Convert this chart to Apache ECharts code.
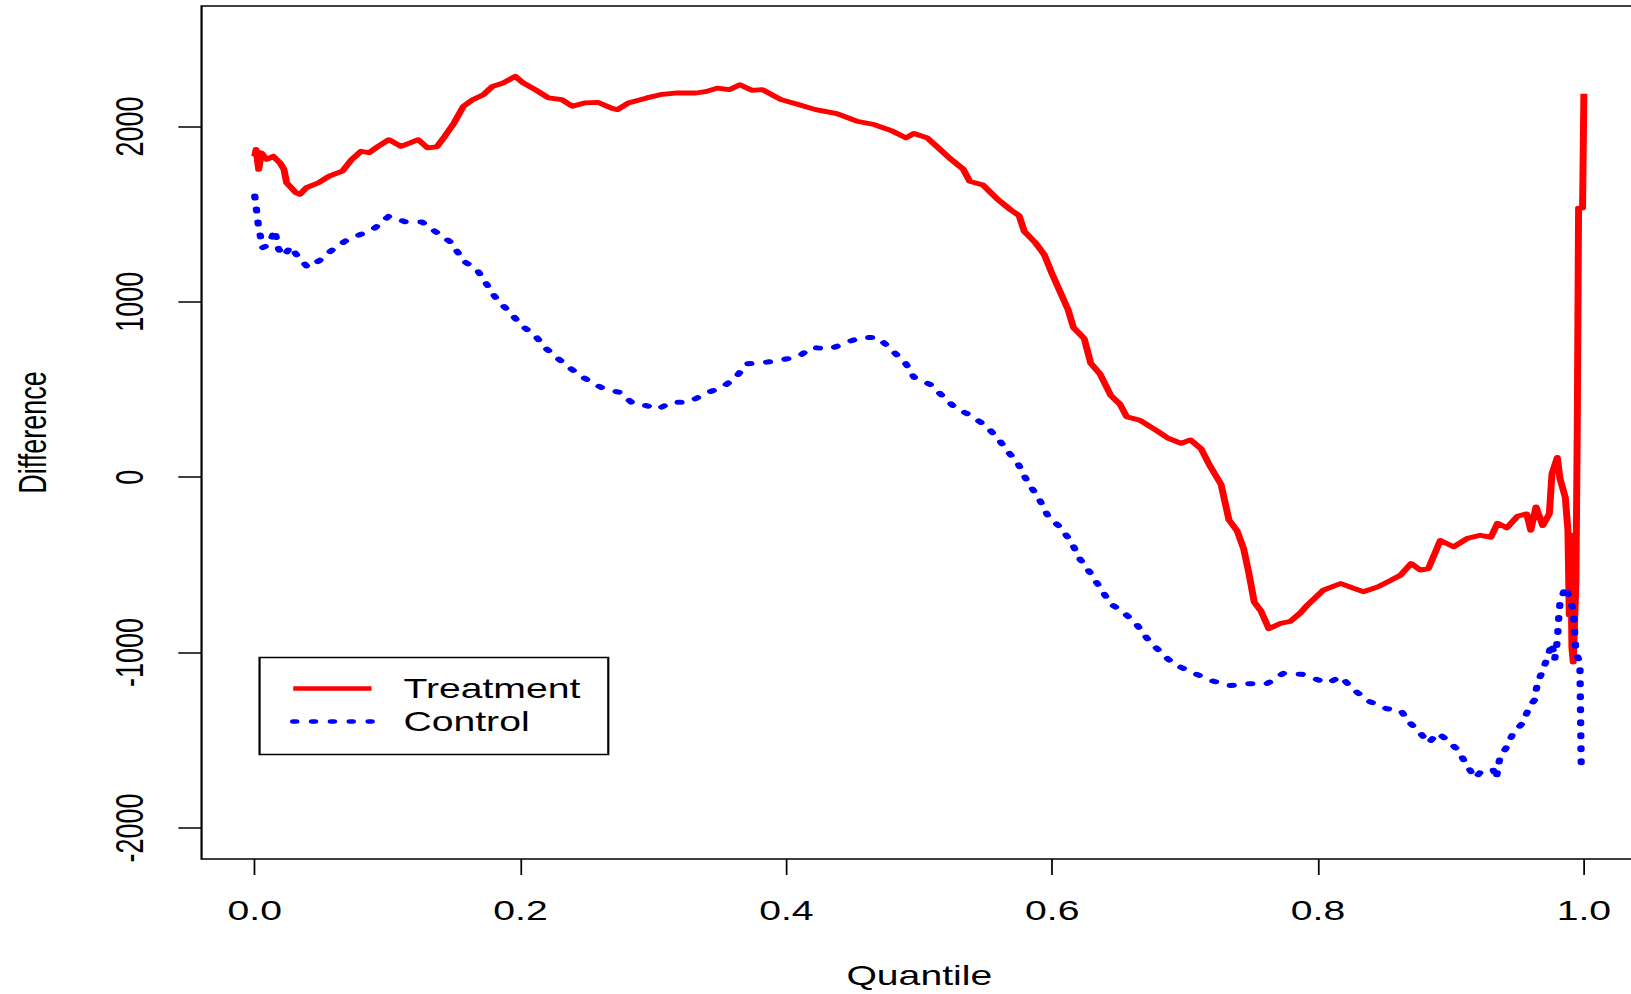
<!DOCTYPE html>
<html>
<head>
<meta charset="utf-8">
<title>Quantile difference</title>
<script src="https://cdn.jsdelivr.net/npm/echarts@6.0.0/dist/echarts.min.js"></script>
<style>
    html, body { margin: 0; padding: 0; background: #fff; overflow: hidden; width: 1631px; height: 994px; }
    /* the original plot is stretched sideways, so draw narrow and stretch;
       the box runs past the right edge, so the chart is a bit wider than the window */
    #main { width: 1140px; height: 994px; transform: scaleX(1.45); transform-origin: 0 0; }
</style>
</head>
<body>
<div id="main"></div>
<script>
var seriesNames = ['Treatment', 'Control'];

var xTicks = [0, 0.2, 0.4, 0.6, 0.8, 1.0];
var yTicks = [-2000, -1000, 0, 1000, 2000];

// Treatment
var treatQ = [0.000, 0.001, 0.003, 0.005, 0.009, 0.014, 0.019, 0.022, 0.024, 0.031, 0.034, 0.039, 0.048, 0.056, 0.066,
    0.073, 0.080, 0.086, 0.093, 0.101, 0.110, 0.117, 0.123, 0.130, 0.137, 0.143, 0.150, 0.157, 0.164, 0.172,
    0.179, 0.187, 0.196, 0.202, 0.211, 0.221, 0.231, 0.239, 0.248, 0.258, 0.268, 0.273, 0.281, 0.295, 0.305,
    0.318, 0.332, 0.340, 0.348, 0.357, 0.365, 0.374, 0.382, 0.396, 0.409, 0.422, 0.438, 0.453, 0.466, 0.480,
    0.490, 0.496, 0.506, 0.513, 0.523, 0.533, 0.538, 0.548, 0.559, 0.569, 0.575, 0.579, 0.587, 0.594, 0.600,
    0.606, 0.612, 0.616, 0.624, 0.629, 0.636, 0.644, 0.651, 0.656, 0.666, 0.679, 0.687, 0.697, 0.704, 0.712,
    0.719, 0.727, 0.733, 0.739, 0.744, 0.748, 0.752, 0.757, 0.763, 0.772, 0.779, 0.787, 0.792, 0.804, 0.817,
    0.827, 0.834, 0.845, 0.855, 0.862, 0.870, 0.877, 0.883, 0.892, 0.902, 0.912, 0.922, 0.930, 0.935, 0.942,
    0.950, 0.957, 0.960, 0.964, 0.969, 0.974, 0.976, 0.980, 0.982, 0.986, 0.988, 0.989, 0.990, 0.991, 0.992,
    0.994, 0.995, 0.996, 0.999, 1.000];
var treatDiff = [1830, 1869, 1755, 1850, 1812, 1830, 1793, 1755, 1679, 1622, 1613, 1651, 1679, 1717, 1745,
    1812, 1859, 1850, 1887, 1925, 1887, 1907, 1925, 1878, 1884, 1944, 2020, 2115, 2153, 2181,
    2229, 2248, 2286, 2248, 2210, 2163, 2153, 2115, 2134, 2138, 2106, 2096, 2134, 2163, 2181,
    2191, 2191, 2200, 2219, 2210, 2238, 2206, 2210, 2153, 2125, 2096, 2073, 2030, 2011, 1973,
    1935, 1960, 1935, 1887, 1818, 1757, 1687, 1666, 1584, 1523, 1493, 1402, 1340, 1269, 1158,
    1056, 954, 853, 792, 650, 589, 467, 416, 345, 325, 264, 223, 193, 213, 162,
    60, -41, -244, -304, -407, -549, -712, -762, -864, -833, -823, -772, -729, -644, -606,
    -634, -653, -625, -587, -559, -492, -530, -521, -360, -397, -350, -331, -343, -262, -289,
    -222, -209, -303, -169, -276, -209, 19, 113, -7, -115, -303, -786, -329, -973, -1054,
    -598, 261, 1535, 1535, 2187];

// Control
var ctrlQ = [0.000, 0.001, 0.002, 0.003, 0.006, 0.011, 0.015, 0.018, 0.022, 0.027, 0.033, 0.040, 0.049, 0.059, 0.069,
    0.083, 0.090, 0.101, 0.113, 0.126, 0.137, 0.148, 0.157, 0.167, 0.175, 0.182, 0.192, 0.201, 0.211, 0.219,
    0.231, 0.243, 0.253, 0.263, 0.274, 0.285, 0.295, 0.303, 0.313, 0.327, 0.338, 0.352, 0.362, 0.370, 0.384,
    0.397, 0.409, 0.419, 0.433, 0.444, 0.456, 0.469, 0.480, 0.490, 0.496, 0.508, 0.517, 0.527, 0.538, 0.550,
    0.559, 0.566, 0.574, 0.581, 0.590, 0.597, 0.606, 0.614, 0.621, 0.629, 0.636, 0.644, 0.654, 0.664, 0.673,
    0.682, 0.691, 0.707, 0.720, 0.733, 0.747, 0.761, 0.774, 0.788, 0.795, 0.807, 0.817, 0.827, 0.838, 0.852,
    0.862, 0.868, 0.876, 0.883, 0.890, 0.897, 0.905, 0.911, 0.918, 0.924, 0.932, 0.934, 0.937, 0.941, 0.947,
    0.954, 0.959, 0.963, 0.965, 0.968, 0.972, 0.976, 0.978, 0.980, 0.981, 0.982, 0.986, 0.990, 0.992, 0.993,
    0.994, 0.997, 0.998];
var ctrlDiff = [1603, 1546, 1480, 1423, 1309, 1328, 1410, 1300, 1262, 1315, 1253, 1196, 1237, 1300, 1351,
    1395, 1419, 1489, 1457, 1455, 1395, 1338, 1233, 1186, 1095, 1015, 940, 864, 807, 735,
    659, 589, 542, 503, 485, 418, 408, 386, 428, 428, 475, 513, 570, 646, 655,
    670, 687, 740, 731, 765, 797, 797, 721, 646, 570, 530, 467, 396, 355, 294,
    223, 152, 81, -21, -122, -224, -285, -366, -468, -549, -630, -722, -772, -844, -935,
    -1000, -1064, -1118, -1160, -1189, -1177, -1180, -1118, -1124, -1142, -1175, -1137, -1213, -1276, -1321,
    -1327, -1393, -1450, -1516, -1459, -1497, -1554, -1630, -1715, -1668, -1671, -1720, -1590, -1550, -1456,
    -1402, -1309, -1269, -1175, -1121, -1040, -947, -1040, -933, -812, -718, -625, -705, -759, -879,
    -1000, -1054, -1650];

function pairs(qs, vs) {
    var out = [];
    for (var i = 0; i < qs.length; i++) {
        out.push([qs[i], vs[i]]);
    }
    return out;
}

var font = "'Liberation Sans', Arial, sans-serif";

var chart = echarts.init(document.getElementById('main'), null, { renderer: 'svg' });
var option = {
    animation: false,
    backgroundColor: '#fff',
    grid: {
        left: 139,
        top: 6,
        width: 990,
        height: 855,
        show: true,
        borderColor: '#000',
        borderWidth: 1.5,
        backgroundColor: 'transparent'
    },
    xAxis: {
        type: 'value',
        min: -0.04,
        max: 1.04,
        name: 'Quantile',
        nameLocation: 'middle',
        nameGap: 103,
        nameTextStyle: { fontSize: 27, color: '#000', fontFamily: font },
        axisLine: { show: false, onZero: false },
        splitLine: { show: false },
        axisTick: {
            show: true,
            length: 16,
            customValues: xTicks,
            lineStyle: { color: '#000', width: 1.2 }
        },
        axisLabel: {
            customValues: xTicks,
            margin: 38,
            fontSize: 27,
            color: '#000',
            fontFamily: font,
            formatter: function (v) { return v.toFixed(1); }
        }
    },
    yAxis: {
        type: 'value',
        min: -2177,
        max: 2687,
        name: 'Difference',
        nameLocation: 'middle',
        nameGap: 103,
        nameRotate: 90,
        nameTextStyle: { fontSize: 27, color: '#000', fontFamily: font },
        axisLine: { show: false, onZero: false },
        splitLine: { show: false },
        axisTick: {
            show: true,
            length: 16,
            customValues: yTicks,
            lineStyle: { color: '#000', width: 1.5 }
        },
        axisLabel: {
            customValues: yTicks,
            rotate: 90,
            margin: 36,
            fontSize: 27,
            color: '#000',
            fontFamily: font,
            formatter: function (v) { return String(v); }
        }
    },
    legend: {
        data: seriesNames,
        orient: 'vertical',
        left: 200,
        top: 675,
        padding: 0,
        itemWidth: 54,
        itemHeight: 20,
        itemGap: 6,
        selectedMode: false,
        itemStyle: { color: 'rgba(0,0,0,0)', borderWidth: 0, opacity: 0 },
        lineStyle: { width: 4.5 },
        textStyle: {
            fontSize: 27,
            lineHeight: 27,
            color: '#000',
            fontFamily: font,
            padding: [0, 0, 0, 17]
        }
    },
    graphic: [{
        type: 'rect',
        left: 176.5,
        top: 655,
        shape: { width: 240.5, height: 97 },
        style: { fill: 'none', stroke: '#000', lineWidth: 1.5 },
        silent: true
    }],
    series: [{
        name: seriesNames[0],
        type: 'line',
        data: pairs(treatQ, treatDiff),
        symbol: 'none',
        showSymbol: false,
        color: '#ff0000',
        lineStyle: { color: '#ff0000', width: 4.8, join: 'round' },
        silent: true
    }, {
        name: seriesNames[1],
        type: 'line',
        data: pairs(ctrlQ, ctrlDiff),
        symbol: 'none',
        showSymbol: false,
        color: '#0000ff',
        lineStyle: { color: '#0000ff', width: 5, type: [2, 11], cap: 'round', join: 'round' },
        silent: true
    }]
};
chart.setOption(option);
</script>
</body>
</html>
